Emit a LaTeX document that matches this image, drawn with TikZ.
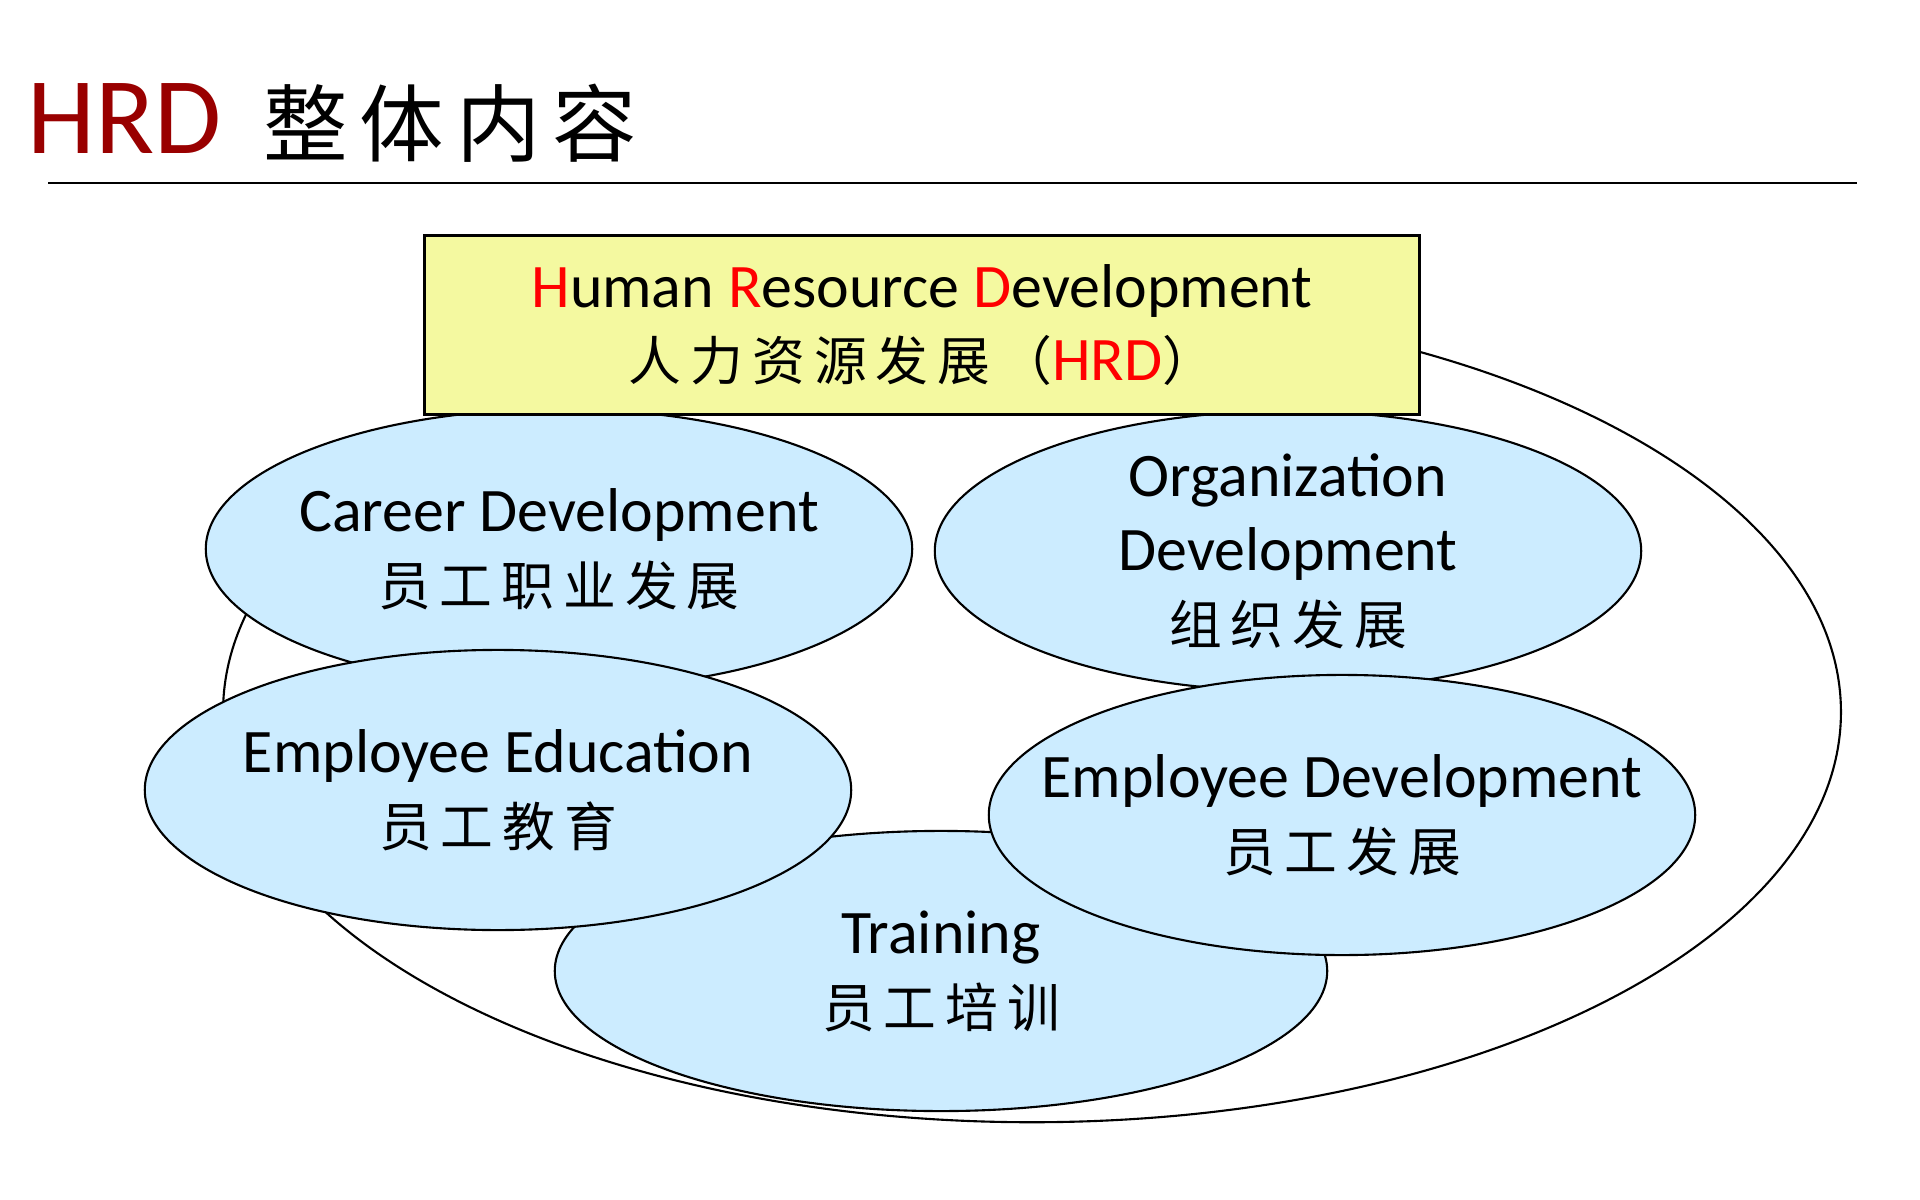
\documentclass[tikz,border=0pt]{standalone}
\usepackage{fontspec}
\setmainfont{Carlito}
\newfontfamily\cjk[LetterSpace=17]{Noto Sans CJK SC}
\usetikzlibrary{shapes.geometric}
\definecolor{fieldblue}{RGB}{204,236,255}
\definecolor{boxyellow}{RGB}{244,249,160}
\definecolor{titlered}{RGB}{153,0,0}
\newcommand{\zh}[1]{{\cjk\fontsize{15}{21}\selectfont #1}}
\tikzset{
    field/.style={ellipse, draw, line width=0.6pt, fill=fieldblue, inner sep=0pt,
        minimum width=7.06cm, minimum height=2.80cm},
    fieldtext/.style={inner sep=0pt, align=center, font=\fontsize{17.6}{21}\selectfont},
    hrdbox/.style={rectangle, draw, line width=0.8pt, fill=boxyellow, inner sep=0pt,
        minimum width=9.95cm, minimum height=1.79cm, align=center,
        font=\fontsize{17.6}{21}\selectfont}
}

\begin{document}
\begin{tikzpicture}[x=0.01cm, y=-0.01cm]
        \fill[white] (0,0) rectangle (1920,1200);
        \useasboundingbox (0,0) rectangle (1920,1200);

        \node[anchor=base west, inner sep=0pt, text=titlered, font=\fontsize{31}{36}\selectfont] (title) at (27,153) {HRD};
        \node[anchor=base west, inner sep=0pt, font=\fontsize{24}{30}\selectfont] (titlezh) at (263,156) {\cjk\addfontfeature{LetterSpace=14}整体内容};
        \draw[line width=0.6pt] (48,183) -- (1857,183);

        \node[ellipse, draw, line width=0.6pt, inner sep=0pt, minimum width=16.17cm, minimum height=8.2cm] (whole) at (1032,712) {};

        \node[field, minimum width=7.72cm, label={[fieldtext]center:Training\\ \zh{员工培训}}] (training) at (941,971) {};
        \node[field, label={[fieldtext]center:Career Development\\ \zh{员工职业发展}}] (career) at (559,549) {};
        \node[field, label={[fieldtext]center:Organization\\ Development\\ \zh{组织发展}}] (org) at (1288,551) {};
        \node[field, label={[fieldtext]center:Employee Education\\ \zh{员工教育}}] (edu) at (498,790) {};
        \node[field, label={[fieldtext]center:Employee Development\\ \zh{员工发展}}] (empdev) at (1342,815) {};

        \node[hrdbox] (hrd) at (922,325) {{\color{red}H}uman {\color{red}R}esource {\color{red}D}evelopment\\
            \zh{人力资源发展（}{\color{red}HRD}\zh{）}};
\end{tikzpicture}
\end{document}
